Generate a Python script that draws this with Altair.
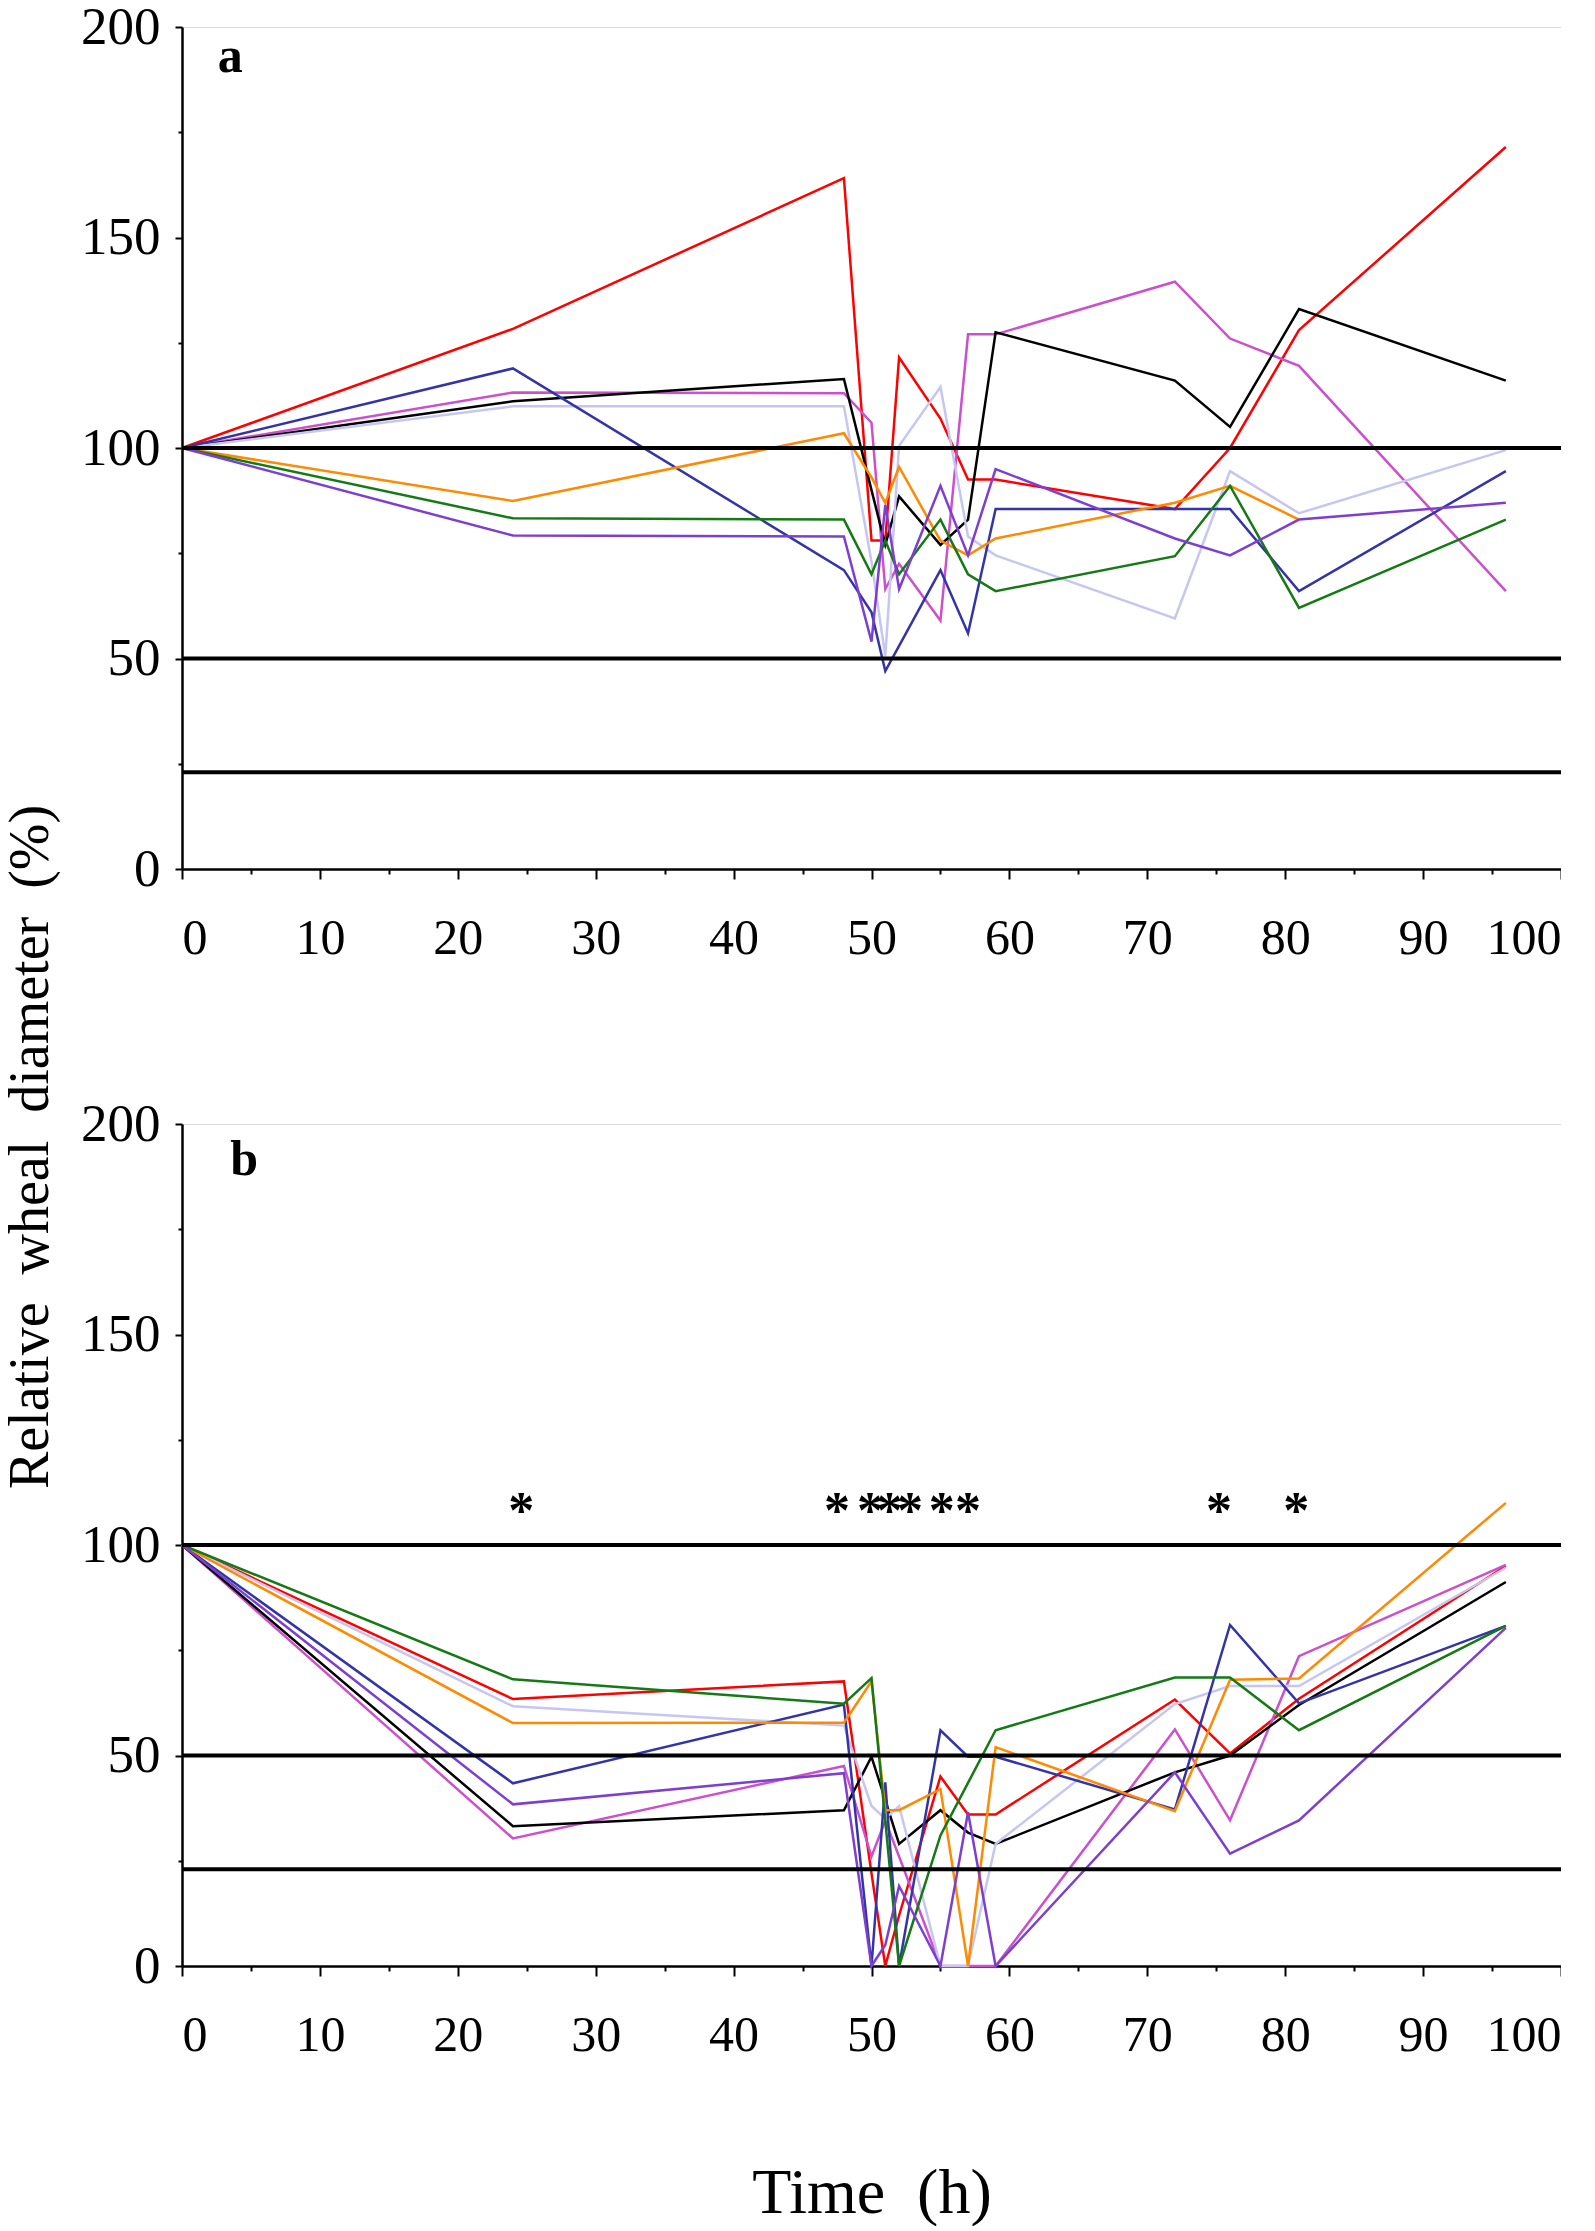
import altair as alt
import pandas as pd

# ---------------- data ----------------
T = [0, 24, 48, 50, 51, 52, 55, 57, 59, 72, 76, 81, 96]

SERIES = ["red", "magenta", "black", "lavender", "blue", "orange", "green", "purple"]
COLORS = ["#ff0000", "#cc4fcc", "#000000", "#c6c6f2", "#3434a8", "#ff8a00", "#157a15", "#7d3fcf"]

# panel a
A_red      = [100, 128.3, 164.1, 78.0, 78.0, 121.5, 107.0, 92.5, 92.5, 85.5, 100.0, 128.0, 171.5]
A_magenta  = [100, 113.2, 113.0, 106.0, 66.5, 72.5, 59.0, 127.0, 127.0, 139.5, 126.0, 119.5, 66.0]
A_black    = [100, 111.1, 116.4, 90.0, 77.0, 88.5, 77.0, 83.0, 127.5, 116.0, 105.0, 133.0, 116.0]
A_lavender = [100, 109.9, 109.9, 73.0, 50.5, 100.5, 114.5, 79.0, 74.5, 59.5, 94.5, 84.5, 99.5]
A_blue     = [100, 118.9, 71.0, 61.0, 47.0, 53.0, 71.0, 56.0, 85.5, 85.5, 85.5, 66.0, 94.5]
A_orange   = [100, 87.4, 103.5, 93.0, 87.0, 95.5, 78.0, 74.5, 78.5, 87.0, 91.0, 83.0, None]
A_green    = [100, 83.3, 83.0, 70.0, 78.0, 70.0, 83.0, 70.0, 66.0, 74.3, 91.0, 62.0, 83.0]
A_purple   = [100, 79.2, 79.0, 54.0, 86.5, 66.5, 91.0, 74.5, 95.0, 78.5, 74.5, 83.0, 87.0]

# panel b
B_red      = [100, 63.4, 67.6, 22.0, 0.0, 12.0, 45.0, 36.0, 36.0, 63.3, 50.5, 63.5, 95.0]
B_magenta  = [100, 30.3, 47.5, 26.0, 34.5, 26.0, 0.0, 0.0, 0.0, 56.2, 34.6, 73.6, 95.3]
B_black    = [100, 33.2, 37.0, 49.7, 39.4, 29.0, 37.0, 31.7, 29.0, 46.0, 50.0, 62.0, 91.2]
B_lavender = [100, 61.7, 57.1, 38.0, 35.0, 38.0, 0.0, 0.0, 29.0, 62.2, 66.5, 66.5, 94.6]
B_blue     = [100, 43.4, 62.1, 0.0, 43.6, 0.0, 56.0, 49.7, 49.7, 37.2, 81.0, 62.4, 80.8]
B_orange   = [100, 57.7, 57.8, 67.6, 37.0, 37.0, 42.0, 0.0, 52.0, 36.8, 68.0, 68.3, 110.0]
B_green    = [100, 68.1, 62.3, 68.4, 34.5, 0.0, 31.0, 43.5, 56.0, 68.5, 68.5, 56.0, 80.8]
B_purple   = [100, 38.4, 45.8, 0.0, 5.0, 19.0, 0.0, 36.5, 0.0, 46.0, 26.7, 34.6, 80.3]

REF_LINES = [100, 50, 23]
STAR_X = [24.6, 47.5, 49.9, 51.3, 52.8, 55.1, 57.0, 75.2, 80.8]
STAR_Y = 104
PANEL_LABEL = {"a": (3.5, 189.3), "b": (4.5, 188.0)}

Y_TITLE = "Relative\u00a0 wheal\u00a0 diameter\u00a0 (%)"
X_TITLE = "Time\u00a0 (h)"

PANELS = {
    "a": dict(zip(SERIES, [A_red, A_magenta, A_black, A_lavender, A_blue, A_orange, A_green, A_purple])),
    "b": dict(zip(SERIES, [B_red, B_magenta, B_black, B_lavender, B_blue, B_orange, B_green, B_purple])),
}

FONT = "Liberation Serif"
W, H = 1379, 842


def panel(key, show_title):
    rows = []
    for s in SERIES:
        for t, v in zip(T, PANELS[key][s]):
            if v is not None:
                rows.append({"series": s, "t": t, "v": v})
    df = pd.DataFrame(rows)

    xaxis = alt.Axis(
        values=list(range(0, 101, 5)),
        labelExpr="datum.value % 10 === 0 ? datum.label : ''",
        tickSize={"condition": {"test": "datum.value % 10 === 0", "value": 10}, "value": 5},
        tickColor="black", tickWidth=2, domainColor="black", domainWidth=2.5,
        labelFont=FONT, labelFontSize=50, labelColor="black", labelPadding=34,
        grid=False,
        title=X_TITLE if show_title else None,
        titleFont=FONT, titleFontSize=64, titleFontWeight="normal", titleColor="black",
        titlePadding=101,
    )
    yaxis = alt.Axis(
        values=list(range(0, 201, 25)),
        labelExpr="datum.value % 50 === 0 ? datum.label : ''",
        tickSize={"condition": {"test": "datum.value % 50 === 0", "value": 7}, "value": 4},
        tickColor="black", tickWidth=2, domainColor="black", domainWidth=2.5,
        labelFont=FONT, labelFontSize=53, labelColor="black", labelPadding=15,
        grid=False, title=None,
    )
    xs = alt.Scale(domain=[0, 100], nice=False)
    ys = alt.Scale(domain=[0, 200], nice=False)

    base_lines = alt.Chart(df).mark_line(strokeWidth=2.5).encode(
        x=alt.X("t:Q", scale=xs, axis=xaxis),
        y=alt.Y("v:Q", scale=ys, axis=yaxis),
        color=alt.Color("series:N", scale=alt.Scale(domain=SERIES, range=COLORS), legend=None),
        order=alt.Order("t:Q"),
    )
    refs = alt.Chart(pd.DataFrame({"v": REF_LINES})).mark_rule(
        color="black", strokeWidth=4
    ).encode(y=alt.Y("v:Q", scale=ys))

    lx, ly = PANEL_LABEL[key]
    lab = alt.Chart(pd.DataFrame({"x": [lx], "y": [ly], "txt": [key]})).mark_text(
        font=FONT, fontSize=50, fontWeight="bold", color="black",
        align="center", baseline="alphabetic"
    ).encode(x=alt.X("x:Q", scale=xs), y=alt.Y("y:Q", scale=ys), text="txt:N")

    layers = [base_lines, refs, lab]
    if key == "b":
        stars = alt.Chart(pd.DataFrame({"x": STAR_X, "y": [STAR_Y] * len(STAR_X), "s": ["*"] * len(STAR_X)})).mark_text(
            font=FONT, fontSize=52, fontWeight="bold", color="black",
            align="center", baseline="alphabetic"
        ).encode(x=alt.X("x:Q", scale=xs), y=alt.Y("y:Q", scale=ys), text="s:N")
        ytitle = alt.Chart(pd.DataFrame({"s": [Y_TITLE]})).mark_text(
            font=FONT, fontSize=56, color="black", angle=270,
            align="center", baseline="middle"
        ).encode(x=alt.value(-151), y=alt.value(23), text="s:N")
        layers += [stars, ytitle]

    return alt.layer(*layers).properties(width=W, height=H)


chart = alt.vconcat(panel("a", False), panel("b", True), spacing=255, bounds="flush").properties(
    padding={"left": -6, "top": -8, "right": -3, "bottom": 0}
).configure_view(stroke=None).configure(background="white")

chart.save("out.html", embed_options={"renderer": "svg", "actions": False})
